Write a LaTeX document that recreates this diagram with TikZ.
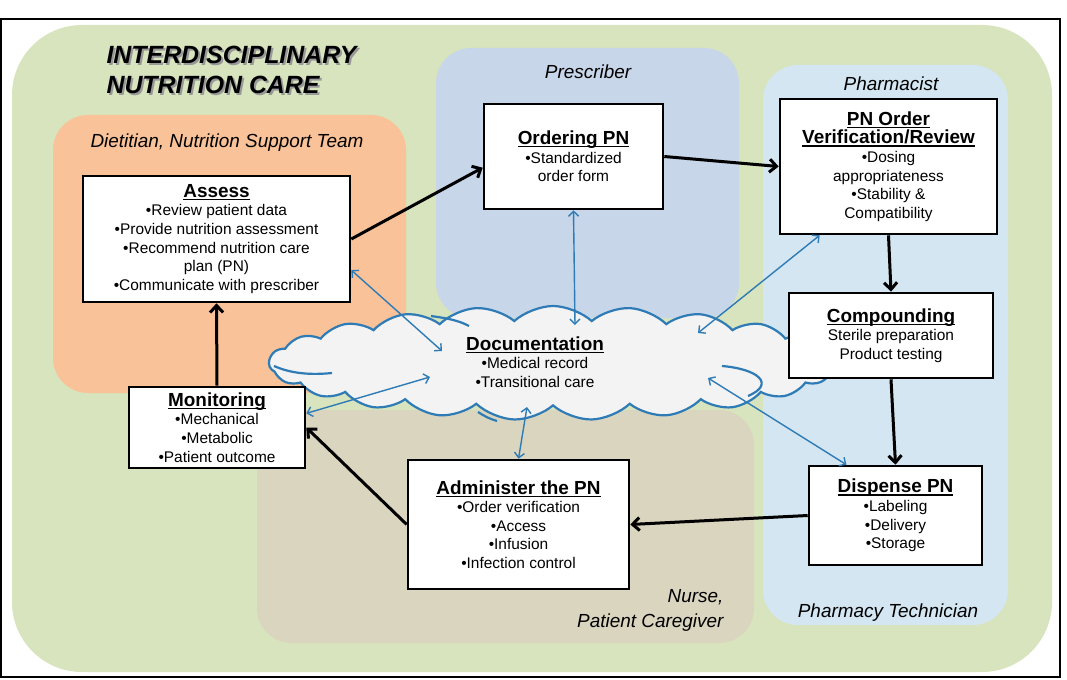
\documentclass[tikz,border=0pt]{standalone}
\usepackage{fontspec}
\setmainfont{Liberation Sans}
\usetikzlibrary{arrows.meta,shapes.symbols}

\definecolor{greenbg}{RGB}{215,228,189}
\definecolor{dietorange}{RGB}{249,194,153}
\definecolor{prescblue}{RGB}{200,214,233}
\definecolor{pharmblue}{RGB}{211,230,241}
\definecolor{nursetan}{RGB}{218,213,191}
\definecolor{docblue}{RGB}{46,123,182}
\definecolor{cloudgray}{RGB}{243,243,243}

\newcommand{\bodysize}{\fontsize{15.5}{18.7}\selectfont}
\newsavebox{\headbox}
\newcommand{\boxhead}[1]{{\fontsize{19}{20}\selectfont\bfseries
  \sbox{\headbox}{#1}\rlap{\rule[-2.8bp]{\wd\headbox}{1.3bp}}\usebox{\headbox}}}

\tikzstyle{region} = [rounded corners=35bp, draw=none]
\tikzstyle{rolelabel} = [font=\fontsize{19}{25}\selectfont\itshape]
\tikzstyle{maintitle} = [font=\fontsize{25}{30}\selectfont\bfseries\itshape, align=left, anchor=west]
\tikzstyle{stepbox} = [draw, line width=2.6bp, fill=white, align=center, font=\bodysize, inner sep=0pt]
\tikzstyle{flow} = [draw, line width=3bp, -{Straight Barb[length=7bp,width=13bp]}]
\tikzstyle{docflow} = [draw=docblue, line width=1.4bp, {Straight Barb[length=5bp,width=10bp]}-{Straight Barb[length=5bp,width=10bp]}]
\tikzstyle{cloudline} = [draw=docblue, line width=2.2bp]

\begin{document}
\begin{tikzpicture}[x=1bp, y=-1bp]
    \useasboundingbox (0,0) rectangle (1067,680);
    % First the frame and the coloured areas
    \draw[line width=1.5bp] (1,19) rectangle (1060,677);
    \path[region, fill=greenbg, rounded corners=70bp] (12,25) rectangle (1052,672);
    \path[region, fill=dietorange] (53,115) rectangle (406,393);
    \path[region, fill=prescblue] (436,48) rectangle (739,318);
    \path[region, fill=pharmblue] (763,65) rectangle (1008,625);
    \path[region, fill=nursetan] (257,410) rectangle (754,643);

    \node[maintitle, text=black!40] at (105,72) {INTERDISCIPLINARY\\NUTRITION CARE};
    \node[maintitle] (title) at (103,70) {INTERDISCIPLINARY\\NUTRITION CARE};
    \node[rolelabel] (dietitian) at (227,143) {Dietitian, Nutrition Support Team};
    \node[rolelabel] (prescriber) at (588,72) {Prescriber};
    \node[rolelabel] (pharmacist) at (891,84) {Pharmacist};
    \node[rolelabel] (technician) at (888,613) {Pharmacy Technician};
    \node[rolelabel, align=right, anchor=east] (nurse) at (727,610) {Nurse,\\Patient Caregiver};

    % the documentation cloud
    \node[cloud, cloud puffs=23, cloud puff arc=85, cloud ignores aspect, minimum width=568bp, minimum height=114bp, cloudline, fill=cloudgray] (cloud) at (553,363) {};
    \draw[cloudline] (274,366) .. controls (292,374) and (312,375) .. (332,373);
    \draw[cloudline] (431,316) .. controls (445,318) and (458,320) .. (469,326);
    \draw[cloudline] (722,366) .. controls (758,369) and (776,384) .. (748,396);
    \draw[cloudline] (478,412) .. controls (484,416) and (490,419) .. (497,421);
    \node[align=center, font=\bodysize] (doc) at (535,362) {\boxhead{Documentation}\\•Medical record\\•Transitional care};

    % the steps
    \node[stepbox, minimum width=267bp, minimum height=126bp] (assess) at (216.5,239) {\boxhead{Assess}\\•Review patient data\\•Provide nutrition assessment\\•Recommend nutrition care\\plan (PN)\\•Communicate with prescriber};
    \node[stepbox, minimum width=179bp, minimum height=105bp] (order) at (573.5,156.5) {\boxhead{Ordering PN}\\•Standardized\\order form};
    \node[stepbox, minimum width=217bp, minimum height=135bp] (verify) at (888.5,166.5) {\boxhead{PN Order}\\\boxhead{Verification/Review}\\•Dosing\\appropriateness\\•Stability \&\\Compatibility};
    \node[stepbox, minimum width=204bp, minimum height=85bp] (compound) at (891,335.5) {\boxhead{Compounding}\\Sterile preparation\\Product testing};
    \node[stepbox, minimum width=173bp, minimum height=99bp] (dispense) at (895.5,515.5) {\boxhead{Dispense PN}\\•Labeling\\•Delivery\\•Storage};
    \node[stepbox, minimum width=221bp, minimum height=129bp] (admin) at (518.5,524.5) {\boxhead{Administer the PN}\\•Order verification\\•Access\\•Infusion\\•Infection control};
    \node[stepbox, minimum width=176bp, minimum height=81bp] (monitor) at (217,427.5) {\boxhead{Monitoring}\\•Mechanical\\•Metabolic\\•Patient outcome};

    % free ends inside the cloud
    \foreach \pos/\name in {{(442,351)/dA}, {(575,325)/dB}, {(698,333)/dC}, {(430,377)/dD}, {(527,407)/dE}, {(708,378)/dF}}
        \node[coordinate] (\name) at \pos {};

    % the care cycle
    \foreach \source/\dest in {assess.east/order.-173, order.east/verify.west, verify.south/compound.north, compound.south/dispense.north, dispense.west/admin.east, admin.west/monitor.east, monitor.north/assess.south}
        \path[flow] (\source) -- (\dest);
    % links to the documentation
    \foreach \source/\dest in {assess.-13/dA, order.south/dB, verify.-135/dC, monitor.9/dD, admin.north/dE, dispense.134/dF}
        \path[docflow] (\source) -- (\dest);
\end{tikzpicture}
\end{document}
